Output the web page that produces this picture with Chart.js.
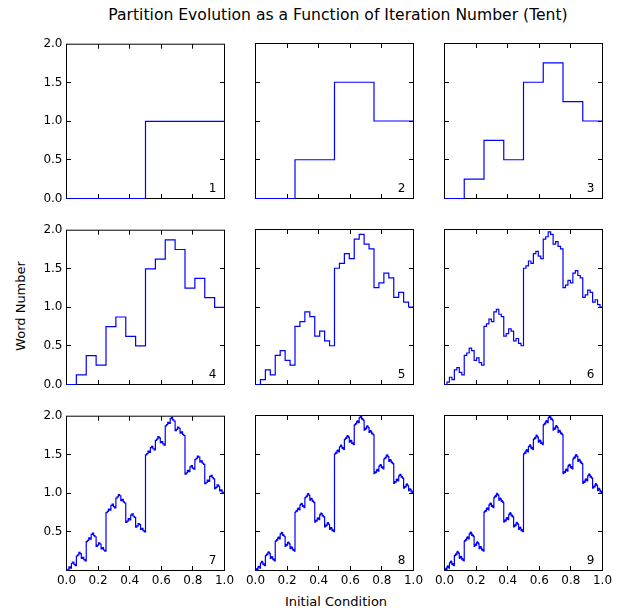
<!DOCTYPE html>
<html>
<head>
<meta charset="utf-8">
<script src="https://cdn.jsdelivr.net/npm/chart.js@4/dist/chart.umd.min.js"></script>
<style>
  body { margin: 0; background: #fff; width: 618px; height: 613px; position: relative; overflow: hidden; font-family: "DejaVu Sans", sans-serif; }
  canvas { position: absolute; }
  .txt { position: absolute; color: #000; white-space: nowrap; transform: translate(-50%, -50%); }
</style>
</head>
<body>
<div class="txt" style="left:338px; top:15px; font-size:15.6px;">Partition Evolution as a Function of Iteration Number (Tent)</div>
<div class="txt" style="left:20px; top:306px; font-size:13px; transform: translate(-50%, -50%) rotate(-90deg);">Word Number</div>
<div class="txt" style="left:336px; top:601px; font-size:13px;">Initial Condition</div>

<script>
// word number of each of the 2^n partition cells, left to right, after n iterations
const iter1Words = [0, 1];
const iter2Words = [0, 1, 3, 2];
const iter3Words = [0, 1, 3, 2, 6, 7, 5, 4];
const iter4Words = [0, 1, 3, 2, 6, 7, 5, 4, 12, 13, 15, 14, 10, 11, 9, 8];
const iter5Words = [0, 1, 3, 2, 6, 7, 5, 4, 12, 13, 15, 14, 10, 11, 9, 8,
  24, 25, 27, 26, 30, 31, 29, 28, 20, 21, 23, 22, 18, 19, 17, 16];
const iter6Words = [...iter5Words,
  48, 49, 51, 50, 54, 55, 53, 52, 60, 61, 63, 62, 58, 59, 57, 56,
  40, 41, 43, 42, 46, 47, 45, 44, 36, 37, 39, 38, 34, 35, 33, 32];
const iter7Words = [...iter6Words,
  96, 97, 99, 98, 102, 103, 101, 100, 108, 109, 111, 110, 106, 107, 105, 104,
  120, 121, 123, 122, 126, 127, 125, 124, 116, 117, 119, 118, 114, 115, 113, 112,
  80, 81, 83, 82, 86, 87, 85, 84, 92, 93, 95, 94, 90, 91, 89, 88,
  72, 73, 75, 74, 78, 79, 77, 76, 68, 69, 71, 70, 66, 67, 65, 64];
const iter8Words = [...iter7Words,
  192, 193, 195, 194, 198, 199, 197, 196, 204, 205, 207, 206, 202, 203, 201, 200,
  216, 217, 219, 218, 222, 223, 221, 220, 212, 213, 215, 214, 210, 211, 209, 208,
  240, 241, 243, 242, 246, 247, 245, 244, 252, 253, 255, 254, 250, 251, 249, 248,
  232, 233, 235, 234, 238, 239, 237, 236, 228, 229, 231, 230, 226, 227, 225, 224,
  160, 161, 163, 162, 166, 167, 165, 164, 172, 173, 175, 174, 170, 171, 169, 168,
  184, 185, 187, 186, 190, 191, 189, 188, 180, 181, 183, 182, 178, 179, 177, 176,
  144, 145, 147, 146, 150, 151, 149, 148, 156, 157, 159, 158, 154, 155, 153, 152,
  136, 137, 139, 138, 142, 143, 141, 140, 132, 133, 135, 134, 130, 131, 129, 128];
const iter9Words = [...iter8Words,
  384, 385, 387, 386, 390, 391, 389, 388, 396, 397, 399, 398, 394, 395, 393, 392,
  408, 409, 411, 410, 414, 415, 413, 412, 404, 405, 407, 406, 402, 403, 401, 400,
  432, 433, 435, 434, 438, 439, 437, 436, 444, 445, 447, 446, 442, 443, 441, 440,
  424, 425, 427, 426, 430, 431, 429, 428, 420, 421, 423, 422, 418, 419, 417, 416,
  480, 481, 483, 482, 486, 487, 485, 484, 492, 493, 495, 494, 490, 491, 489, 488,
  504, 505, 507, 506, 510, 511, 509, 508, 500, 501, 503, 502, 498, 499, 497, 496,
  464, 465, 467, 466, 470, 471, 469, 468, 476, 477, 479, 478, 474, 475, 473, 472,
  456, 457, 459, 458, 462, 463, 461, 460, 452, 453, 455, 454, 450, 451, 449, 448,
  320, 321, 323, 322, 326, 327, 325, 324, 332, 333, 335, 334, 330, 331, 329, 328,
  344, 345, 347, 346, 350, 351, 349, 348, 340, 341, 343, 342, 338, 339, 337, 336,
  368, 369, 371, 370, 374, 375, 373, 372, 380, 381, 383, 382, 378, 379, 377, 376,
  360, 361, 363, 362, 366, 367, 365, 364, 356, 357, 359, 358, 354, 355, 353, 352,
  288, 289, 291, 290, 294, 295, 293, 292, 300, 301, 303, 302, 298, 299, 297, 296,
  312, 313, 315, 314, 318, 319, 317, 316, 308, 309, 311, 310, 306, 307, 305, 304,
  272, 273, 275, 274, 278, 279, 277, 276, 284, 285, 287, 286, 282, 283, 281, 280,
  264, 265, 267, 266, 270, 271, 269, 268, 260, 261, 263, 262, 258, 259, 257, 256];

// word number -> plotted value (word / 2^(n-1))
const wordScale = [1, 2, 4, 8, 16, 32, 64, 128, 256];
const panelLabels = ['1', '2', '3', '4', '5', '6', '7', '8', '9'];
const xTickStep = 0.2;
const yTickStep = 0.5;

const panelWords = [iter1Words, iter2Words, iter3Words, iter4Words, iter5Words,
  iter6Words, iter7Words, iter8Words, iter9Words];

// frame pixel positions in the page
const colLeft = [66, 255, 444], colRight = [224, 413, 602];
const rowTop = [43, 229, 415], rowBottom = [198, 384, 570];
const PAD_L = 45, PAD_T = 10, PAD_R = 15, PAD_B = 25;

Chart.defaults.font.family = 'DejaVu Sans';
Chart.defaults.color = '#000';

function framePlugin(label) {
  return {
    id: 'frame',
    beforeDatasetsDraw(chart) {
      const { ctx, chartArea: a, scales } = chart;
      ctx.save();
      ctx.strokeStyle = '#000';
      ctx.lineWidth = 1;
      ctx.strokeRect(a.left, a.top, a.right - a.left, a.bottom - a.top);
      const len = 4.5;
      ctx.beginPath();
      scales.x.ticks.forEach(t => {
        if (t.value <= 0 || t.value >= 1) return;
        const p = Math.round(scales.x.getPixelForValue(t.value) - 0.5) + 0.5;
        ctx.moveTo(p, a.bottom); ctx.lineTo(p, a.bottom - len);
        ctx.moveTo(p, a.top); ctx.lineTo(p, a.top + len);
      });
      scales.y.ticks.forEach(t => {
        if (t.value <= 0 || t.value >= 2) return;
        const p = Math.round(scales.y.getPixelForValue(t.value) - 0.5) + 0.5;
        ctx.moveTo(a.left, p); ctx.lineTo(a.left + len, p);
        ctx.moveTo(a.right, p); ctx.lineTo(a.right - len, p);
      });
      ctx.stroke();
      ctx.restore();
    },
    afterDatasetsDraw(chart) {
      const { ctx, chartArea: a } = chart;
      ctx.save();
      ctx.fillStyle = '#000';
      ctx.font = '12px "DejaVu Sans"';
      ctx.textAlign = 'right';
      ctx.textBaseline = 'alphabetic';
      ctx.fillText(label, a.right - 8, a.bottom - 7);
      ctx.restore();
    }
  };
}

panelWords.forEach((words, k) => {
  const row = Math.floor(k / 3), col = k % 3;
  const n = words.length;
  const pts = words.map((w, i) => ({ x: i / n, y: w / wordScale[k] }));
  pts.push({ x: 1, y: words[n - 1] / wordScale[k] });

  const cv = document.createElement('canvas');
  cv.width = colRight[col] - colLeft[col] + PAD_L + PAD_R;
  cv.height = rowBottom[row] - rowTop[row] + PAD_T + PAD_B;
  cv.style.left = (colLeft[col] - PAD_L) + 'px';
  cv.style.top = (rowTop[row] - PAD_T) + 'px';
  document.body.appendChild(cv);

  new Chart(cv, {
    type: 'line',
    data: {
      datasets: [{
        data: pts,
        stepped: true,
        borderColor: '#0000ff',
        borderWidth: 1.2,
        pointRadius: 0,
        fill: false,
        clip: false
      }]
    },
    options: {
      responsive: false,
      animation: false,
      events: [],
      layout: { padding: { left: 0, top: PAD_T + 0.5, right: PAD_R - 0.5, bottom: 0 } },
      plugins: { legend: { display: false }, tooltip: { enabled: false }, title: { display: false } },
      scales: {
        x: {
          type: 'linear', min: 0, max: 1,
          grid: { display: false, drawTicks: false },
          border: { display: false },
          ticks: {
            display: row === 2, stepSize: xTickStep, autoSkip: false, maxRotation: 0,
            padding: 3, font: { size: 12 }, color: '#000',
            callback: v => v.toFixed(1)
          },
          afterFit: s => { s.height = PAD_B - 0.5; }
        },
        y: {
          type: 'linear', min: 0, max: 2,
          grid: { display: false, drawTicks: false },
          border: { display: false },
          ticks: {
            display: col === 0, stepSize: yTickStep, autoSkip: false,
            padding: 4, font: { size: 12 }, color: '#000',
            callback: v => (row === 2 && v === 0) ? '' : v.toFixed(1)
          },
          afterFit: s => { s.width = PAD_L + 0.5; }
        }
      }
    },
    plugins: [framePlugin(panelLabels[k])]
  });
});
</script>
</body>
</html>
